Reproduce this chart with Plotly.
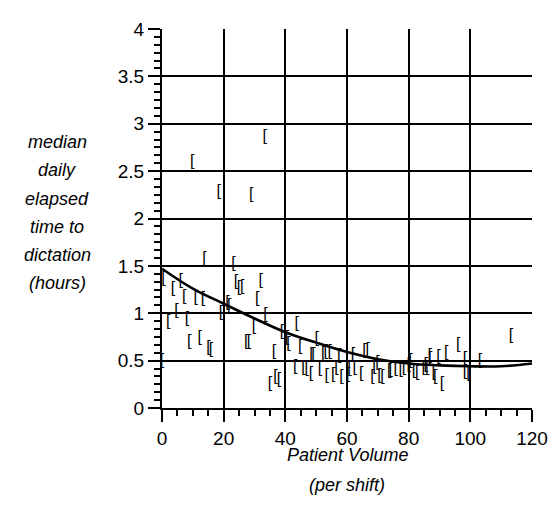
import plotly.graph_objects as go

# Scatter data: patient volume (per shift) vs median daily elapsed time (hours)
vol = [0.5, 3.6, 6.1, 7.2, 10.9, 13.3, 13.8, 23.2, 19.1, 21.2, 21.8,
       2.0, 4.7, 8.1, 8.8, 12.2, 15.1, 15.9, 0.0, 24.0, 25.0, 26.0,
       32.0, 30.9, 33.6, 29.8, 27.3, 28.2, 38.9, 40.5, 43.7, 36.3, 41.0,
       44.8, 49.1, 35.0, 36.8, 37.9, 43.2, 45.9, 46.9, 48.3,
       9.8, 18.4, 28.9, 33.3,
       50.2, 53.1, 54.4, 51.2, 53.4, 55.5, 56.6, 58.2, 60.3, 60.8, 61.9,
       62.5, 64.6, 65.7, 66.7, 68.3, 68.9, 70.5, 71.5, 73.7, 48.5, 52.3,
       69.9, 57.5,
       74.2, 75.8, 77.4, 78.5, 80.6, 81.7, 82.8, 84.9, 86.0, 86.8, 88.1,
       88.6, 89.7, 90.8, 92.2, 96.1, 98.3, 98.3, 99.4, 103.1, 113.2, 87.0,
       85.5, 80.0]
hours = [1.36, 1.26, 1.34, 1.17, 1.16, 1.15, 1.57, 1.52, 1.00, 1.11, 1.08,
         0.91, 1.02, 0.94, 0.70, 0.74, 0.63, 0.61, 0.50, 1.33, 1.27, 1.28,
         1.34, 1.15, 0.98, 0.86, 0.70, 0.70, 0.80, 0.74, 0.89, 0.59, 0.68,
         0.64, 0.56, 0.25, 0.33, 0.30, 0.43, 0.42, 0.41, 0.36,
         2.60, 2.28, 2.25, 2.86,
         0.73, 0.59, 0.59, 0.41, 0.34, 0.35, 0.42, 0.33, 0.35, 0.41, 0.56,
         0.42, 0.36, 0.60, 0.61, 0.33, 0.43, 0.34, 0.33, 0.39, 0.56, 0.57,
         0.48, 0.55,
         0.40, 0.41, 0.40, 0.42, 0.50, 0.39, 0.37, 0.42, 0.42, 0.55, 0.37,
         0.33, 0.54, 0.25, 0.58, 0.67, 0.52, 0.38, 0.36, 0.50, 0.76, 0.52,
         0.45, 0.45]

# Fitted smooth curve
fit_x = [0, 10, 20, 30, 40, 50, 60, 70, 80, 90, 100, 110, 120]
fit_y = [1.47, 1.26, 1.10, 0.945, 0.80, 0.69, 0.59, 0.515, 0.47, 0.45, 0.44, 0.44, 0.47]

y_tickvals = [0, 0.5, 1, 1.5, 2, 2.5, 3, 3.5, 4]
y_ticktext = ["0", "0.5", "1", "1.5", "2", "2.5", "3", "3.5", "4"]
x_tickvals = [0, 20, 40, 60, 80, 100, 120]
x_ticktext = ["0", "20", "40", "60", "80", "100", "120"]

ytitle_lines = ["median", "daily", "elapsed", "time to", "dictation", "(hours)"]
xtitle_lines = ["Patient Volume", "(per shift)"]

FONT = "Liberation Sans, Arial, sans-serif"

# page has an 8px body margin; plot area in page pixels: x 162..536, y 19..408
OFF = 8
PL, PR, PT, PB = 162, 536, 19, 408
W, H = 559 - OFF, 510 - OFF

fig = go.Figure()
fig.add_trace(go.Scatter(
    x=vol, y=hours, mode="text", text=["["] * len(vol),
    textposition="middle center",
    textfont=dict(family=FONT, size=16, color="black"),
    hoverinfo="x+y", showlegend=False))
fig.add_trace(go.Scatter(
    x=fit_x, y=fit_y, mode="lines", line=dict(color="black", width=2.6, shape="spline"),
    showlegend=False))

axis_common = dict(showline=True, linecolor="black", linewidth=2,
                   showgrid=True, gridcolor="black", gridwidth=2,
                   zeroline=False, ticks="outside", ticklen=12, tickwidth=2,
                   tickcolor="black", tickfont=dict(family=FONT, size=19, color="black"))

fig.update_xaxes(range=[0, 120], tickvals=x_tickvals, ticktext=x_ticktext,
                 minor=dict(dtick=5, ticks="outside", ticklen=6, tickwidth=1.5,
                            tickcolor="black", showgrid=False),
                 **axis_common)
fig.update_yaxes(range=[0, 4], tickvals=y_tickvals, ticktext=y_ticktext,
                 minor=dict(dtick=0.5 / 6, ticks="outside", ticklen=6, tickwidth=1.5,
                            tickcolor="black", showgrid=False),
                 **axis_common)

pw, ph = PR - PL, PB - PT
annotations = []
y_px = [135, 164, 193, 222, 251, 280]
for line, py in zip(ytitle_lines, y_px):
    annotations.append(dict(text=line, xref="paper", yref="paper",
                            x=(56 - PL) / pw, y=(PB - py) / ph,
                            xanchor="center", yanchor="middle", showarrow=False,
                            font=dict(family=FONT, size=18, color="black", style="italic")))
for line, py in zip(xtitle_lines, [456, 487]):
    annotations.append(dict(text=line, xref="paper", yref="paper",
                            x=0.5, y=(PB - py) / ph,
                            xanchor="center", yanchor="middle", showarrow=False,
                            font=dict(family=FONT, size=18, color="black", style="italic")))

fig.update_layout(width=W, height=H,
                  margin=dict(l=PL - OFF, r=W - (PR - OFF), t=PT - OFF, b=H - (PB - OFF)),
                  plot_bgcolor="white", paper_bgcolor="white",
                  annotations=annotations)

fig.write_html("out.html")
